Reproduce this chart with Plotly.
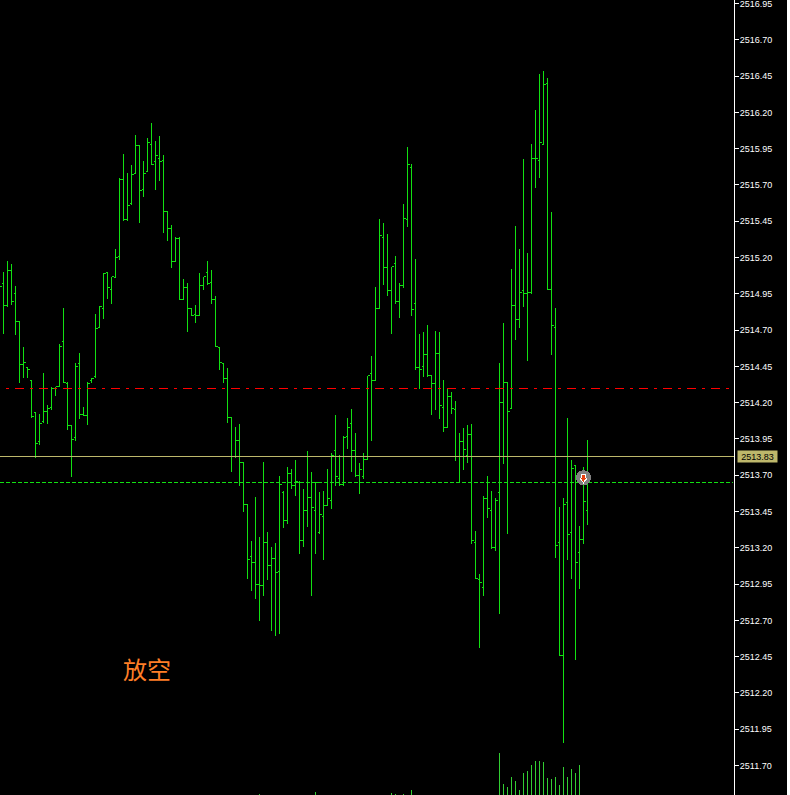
import plotly.graph_objects as go

bar_index = list(range(-1, 147))
high = [2515.000,
 2515.097,2515.173,2515.152,2515.007,2514.759,2514.580,2514.442,2514.353,2514.132,2514.119,
 2514.401,2514.181,2514.311,2514.311,2514.601,2514.849,2514.339,2514.043,2514.470,2514.539,
 2514.167,2514.339,2514.367,2514.808,2514.863,2515.090,2515.097,2515.069,2515.262,2515.751,
 2515.910,2515.779,2515.834,2516.041,2515.972,2515.862,2516.020,2516.124,2516.000,2516.034,
 2515.903,2515.517,2515.421,2515.338,2515.338,2515.049,2515.021,2514.849,2514.870,2515.090,
 2515.069,2515.173,2515.111,2514.938,2514.580,2514.470,2514.442,2514.098,2514.029,2514.050,
 2513.788,2513.498,2513.250,2513.547,2513.271,2513.788,2513.306,2513.202,2513.230,2513.698,
 2513.588,2513.760,2513.740,2513.802,2513.657,2513.602,2513.870,2513.719,2513.650,2513.581,
 2513.588,2513.740,2513.850,2514.112,2513.836,2513.967,2514.091,2514.153,2513.988,2513.781,
 2513.850,2514.387,2514.518,2515.000,2515.462,2515.441,2515.359,2515.138,2515.207,2515.021,
 2515.572,2515.958,2515.841,2515.193,2514.670,2514.690,2514.732,2514.387,2514.697,2514.690,
 2514.353,2514.291,2514.270,2514.208,2513.988,2514.022,2514.043,2514.050,2513.319,2513.016,
 2513.560,2513.698,2513.588,2513.540,2514.470,2514.752,2514.339,2515.118,2515.414,2515.262,
 2515.882,2515.228,2515.979,2516.213,2516.461,2516.482,2516.434,2515.517,2514.849,2513.478,
 2513.540,2514.091,2513.802,2513.767,2513.347,2513.760,2513.946]
low = [2515.000,
 2514.670,2514.856,2514.876,2514.663,2514.332,2514.373,2514.373,2514.091,2513.822,2513.905,
 2514.063,2514.050,2514.146,2514.243,2514.305,2514.332,2514.015,2513.691,2513.933,2514.084,
 2514.105,2514.043,2514.332,2514.373,2514.711,2514.773,2514.911,2514.883,2515.056,2515.186,
 2515.455,2515.455,2515.565,2515.772,2515.435,2515.614,2515.786,2515.834,2515.662,2515.724,
 2515.366,2515.311,2515.131,2515.166,2514.904,2514.904,2514.690,2514.794,2514.746,2514.794,
 2514.973,2515.014,2514.883,2514.580,2514.422,2514.332,2514.063,2513.719,2513.822,2513.629,
 2513.450,2512.982,2512.899,2512.844,2512.699,2512.865,2512.975,2512.630,2512.589,2512.603,
 2513.333,2513.361,2513.602,2513.560,2513.154,2513.202,2513.340,2512.871,2513.154,2513.292,
 2513.119,2513.485,2513.464,2513.629,2513.629,2513.629,2513.884,2513.719,2513.691,2513.574,
 2513.671,2513.808,2513.933,2514.346,2514.842,2515.014,2514.932,2514.670,2514.883,2514.780,
 2514.987,2515.407,2514.794,2514.422,2514.291,2514.380,2514.380,2514.112,2514.146,2514.084,
 2513.995,2514.022,2514.125,2513.795,2513.650,2513.733,2513.781,2513.223,2512.982,2512.513,
 2512.865,2513.402,2513.195,2513.175,2512.741,2513.774,2513.292,2514.153,2514.635,2514.711,
 2514.856,2514.484,2514.952,2515.676,2515.751,2515.972,2514.973,2514.525,2513.133,2512.451,
 2511.852,2513.119,2512.982,2512.430,2512.913,2513.223,2513.354]
open_ = [2515.000,
 2515.021,2514.870,2515.111,2514.952,2514.759,2514.463,2514.442,2514.353,2514.132,2513.933,
 2514.070,2514.139,2514.167,2514.298,2514.311,2514.622,2514.332,2514.043,2513.960,2514.470,
 2514.119,2514.112,2514.353,2514.380,2514.718,2514.849,2515.097,2514.980,2515.062,2515.207,
 2515.738,2515.462,2515.572,2515.779,2515.972,2515.669,2515.793,2515.979,2515.862,2515.882,
 2515.869,2515.517,2515.400,2515.173,2515.331,2514.911,2514.994,2514.849,2514.808,2514.801,
 2515.007,2515.097,2515.028,2514.911,2514.580,2514.470,2514.367,2514.098,2513.829,2513.939,
 2513.788,2513.498,2513.140,2513.099,2512.947,2512.940,2513.237,2513.078,2513.126,2513.037,
 2513.581,2513.388,2513.712,2513.629,2513.650,2513.250,2513.457,2513.547,2513.457,2513.306,
 2513.416,2513.492,2513.526,2513.870,2513.678,2513.636,2513.967,2514.057,2513.870,2513.698,
 2513.691,2513.808,2514.401,2514.353,2514.849,2515.338,2515.131,2514.973,2515.159,2514.897,
 2515.007,2515.462,2515.820,2514.883,2514.442,2514.449,2514.532,2514.387,2514.332,2514.539,
 2514.167,2514.029,2514.243,2514.153,2513.829,2513.933,2513.836,2513.981,2513.237,2512.982,
 2512.927,2513.540,2513.457,2513.202,2513.581,2514.201,2514.339,2514.160,2514.870,2514.773,
 2514.973,2514.952,2514.959,2515.882,2515.869,2515.979,2516.399,2514.980,2514.718,2513.237,
 2512.458,2513.512,2513.306,2513.767,2513.168,2513.257,2513.457]
close = [2515.000,
 2514.870,2515.111,2514.897,2514.759,2514.463,2514.477,2514.429,2514.105,2513.919,2514.057,
 2514.139,2514.160,2514.298,2514.311,2514.587,2514.339,2514.043,2513.946,2514.449,2514.119,
 2514.112,2514.332,2514.367,2514.711,2514.863,2515.090,2514.994,2515.069,2515.200,2515.738,
 2515.462,2515.559,2515.772,2515.972,2515.662,2515.779,2515.993,2515.841,2515.903,2515.862,
 2515.517,2515.400,2515.173,2515.331,2514.911,2514.994,2514.849,2514.801,2514.801,2515.007,
 2515.069,2515.021,2514.911,2514.587,2514.477,2514.367,2514.098,2513.829,2513.939,2513.788,
 2513.498,2513.119,2513.099,2512.947,2512.940,2513.237,2513.078,2513.126,2513.030,2513.636,
 2513.388,2513.712,2513.629,2513.657,2513.250,2513.457,2513.547,2513.478,2513.650,2513.430,
 2513.492,2513.540,2513.836,2513.691,2513.636,2513.960,2514.029,2513.870,2513.698,2513.740,
 2513.808,2514.387,2514.353,2514.849,2515.352,2515.131,2514.973,2515.138,2514.897,2515.007,
 2515.469,2515.841,2514.842,2514.442,2514.429,2514.532,2514.387,2514.332,2514.539,2514.181,
 2514.029,2514.243,2514.160,2513.829,2513.933,2513.877,2513.981,2513.250,2512.989,2512.961,
 2513.540,2513.471,2513.202,2513.526,2514.201,2514.339,2514.139,2514.870,2514.773,2514.959,
 2514.952,2514.959,2515.882,2515.882,2515.993,2516.392,2514.980,2514.732,2513.216,2512.458,
 2513.498,2513.292,2513.746,2513.099,2513.257,2513.519,2513.829]

volume_index = [64, 78, 97, 98, 100, 102, 124, 125, 126, 127, 128, 129, 130, 131, 132, 133,
                134, 135, 136, 137, 138, 139, 140, 141, 142, 143, 144]
volume = [1, 3, 2, 1, 1, 5, 42, 11, 8, 18, 14, 5, 22, 24, 30, 34, 34, 33, 17, 16, 18, 10, 28, 18, 26, 22, 30]

price_ticks = [2511.70, 2511.95, 2512.20, 2512.45, 2512.70, 2512.95, 2513.20, 2513.45, 2513.70,
               2513.95, 2514.20, 2514.45, 2514.70, 2514.95, 2515.20, 2515.45, 2515.70, 2515.95,
               2516.20, 2516.45, 2516.70, 2516.95]
tick_labels = [f"{t:.2f}" for t in price_ticks]

bid_level = 2513.83
stop_level = 2514.297
target_level = 2513.650
signal_bar = 145
signal_circle_price = 2513.683
signal_stem_price = 2513.693
signal_head_price = 2513.670
signal_text = "放空"

GREEN = "#12E012"
W, H = 787, 795
AXIS_PX = 734

fig = go.Figure()
fig.add_trace(go.Ohlc(
    x=bar_index, open=open_, high=high, low=low, close=close, tickwidth=0.5,
    increasing=dict(line=dict(color=GREEN, width=1)),
    decreasing=dict(line=dict(color=GREEN, width=1)),
    showlegend=False, hoverinfo="skip",
))
fig.add_trace(go.Bar(
    x=volume_index, y=volume, yaxis="y2", width=0.25,
    marker=dict(color="#32CD32", line=dict(width=0)),
    showlegend=False, hoverinfo="skip",
))
# Sell-signal badge: grey disc, then a white block arrow with a red block arrow inside it.
for price, symbol, size, colour in [
    (signal_circle_price, "circle", 15, "#808080"),
    (signal_stem_price, "square", 5, "#FFFFFF"),
    (signal_head_price, "triangle-down", 8, "#FFFFFF"),
    (signal_stem_price, "square", 3, "#E8400F"),
    (signal_head_price, "triangle-down", 4.5, "#E8400F"),
]:
    fig.add_trace(go.Scatter(
        x=[signal_bar], y=[price], mode="markers", showlegend=False, hoverinfo="skip",
        marker=dict(symbol=symbol, size=size, color=colour, line=dict(width=0)),
    ))

fig.add_shape(type="line", xref="paper", yref="y", x0=6 / W, x1=731 / W, y0=stop_level, y1=stop_level,
              line=dict(color="#FF0000", width=1, dash="3px,6px,9px,6px"), layer="above")
fig.add_shape(type="line", xref="paper", yref="y", x0=0, x1=AXIS_PX / W, y0=bid_level, y1=bid_level,
              line=dict(color="#BDB76B", width=1), layer="above")
fig.add_shape(type="line", xref="paper", yref="y", x0=0, x1=732.5 / W, y0=target_level, y1=target_level,
              line=dict(color=GREEN, width=1, dash="4px,2px"), layer="below")

fig.add_annotation(x=737 / W, xref="paper", y=bid_level, yref="y", xanchor="left", yanchor="middle",
                   text=f"{bid_level:.2f}", showarrow=False, bgcolor="#BDB76B", width=39, height=11,
                   borderpad=0, font=dict(family="Liberation Sans", size=9, color="#000000"))
fig.add_annotation(x=147 / W, xref="paper", y=2512.365, yref="y", xanchor="center", yanchor="middle",
                   text=signal_text, showarrow=False,
                   font=dict(family="Noto Sans CJK SC", size=24, color="#FF7F27"))

fig.update_layout(
    width=W, height=H, autosize=False,
    margin=dict(l=0, r=0, t=0, b=0, pad=0, autoexpand=False),
    paper_bgcolor="#000000", plot_bgcolor="#000000",
    bargap=0,
    xaxis=dict(domain=[0, AXIS_PX / W], range=[-0.875, 182.625], visible=False,
               rangeslider=dict(visible=False), fixedrange=True),
    yaxis=dict(range=[2511.4967, 2516.9742], side="right", anchor="x", automargin=False,
               tickmode="array", tickvals=price_ticks, ticktext=tick_labels,
               ticks="outside", ticklen=4, tickwidth=1, tickcolor="#FFFFFF",
               ticklabeloverflow="allow", ticklabelstandoff=-1,
               showgrid=False, zeroline=False, showline=True, linecolor="#FFFFFF", linewidth=1,
               tickfont=dict(family="Liberation Sans", size=9, color="#FFFFFF"), fixedrange=True),
    yaxis2=dict(range=[0, 795], overlaying="y", visible=False, fixedrange=True),
    font=dict(family="Liberation Sans"),
)

fig.write_html("out.html", config=dict(displayModeBar=False),
               post_script="document.body.style.margin='0';document.body.style.background='#FFFFFF';"
                           "document.documentElement.style.overflow='hidden';"
                           "document.querySelectorAll('.trace path, .shapelayer path').forEach(function(p){p.style.shapeRendering='crispEdges';});")
